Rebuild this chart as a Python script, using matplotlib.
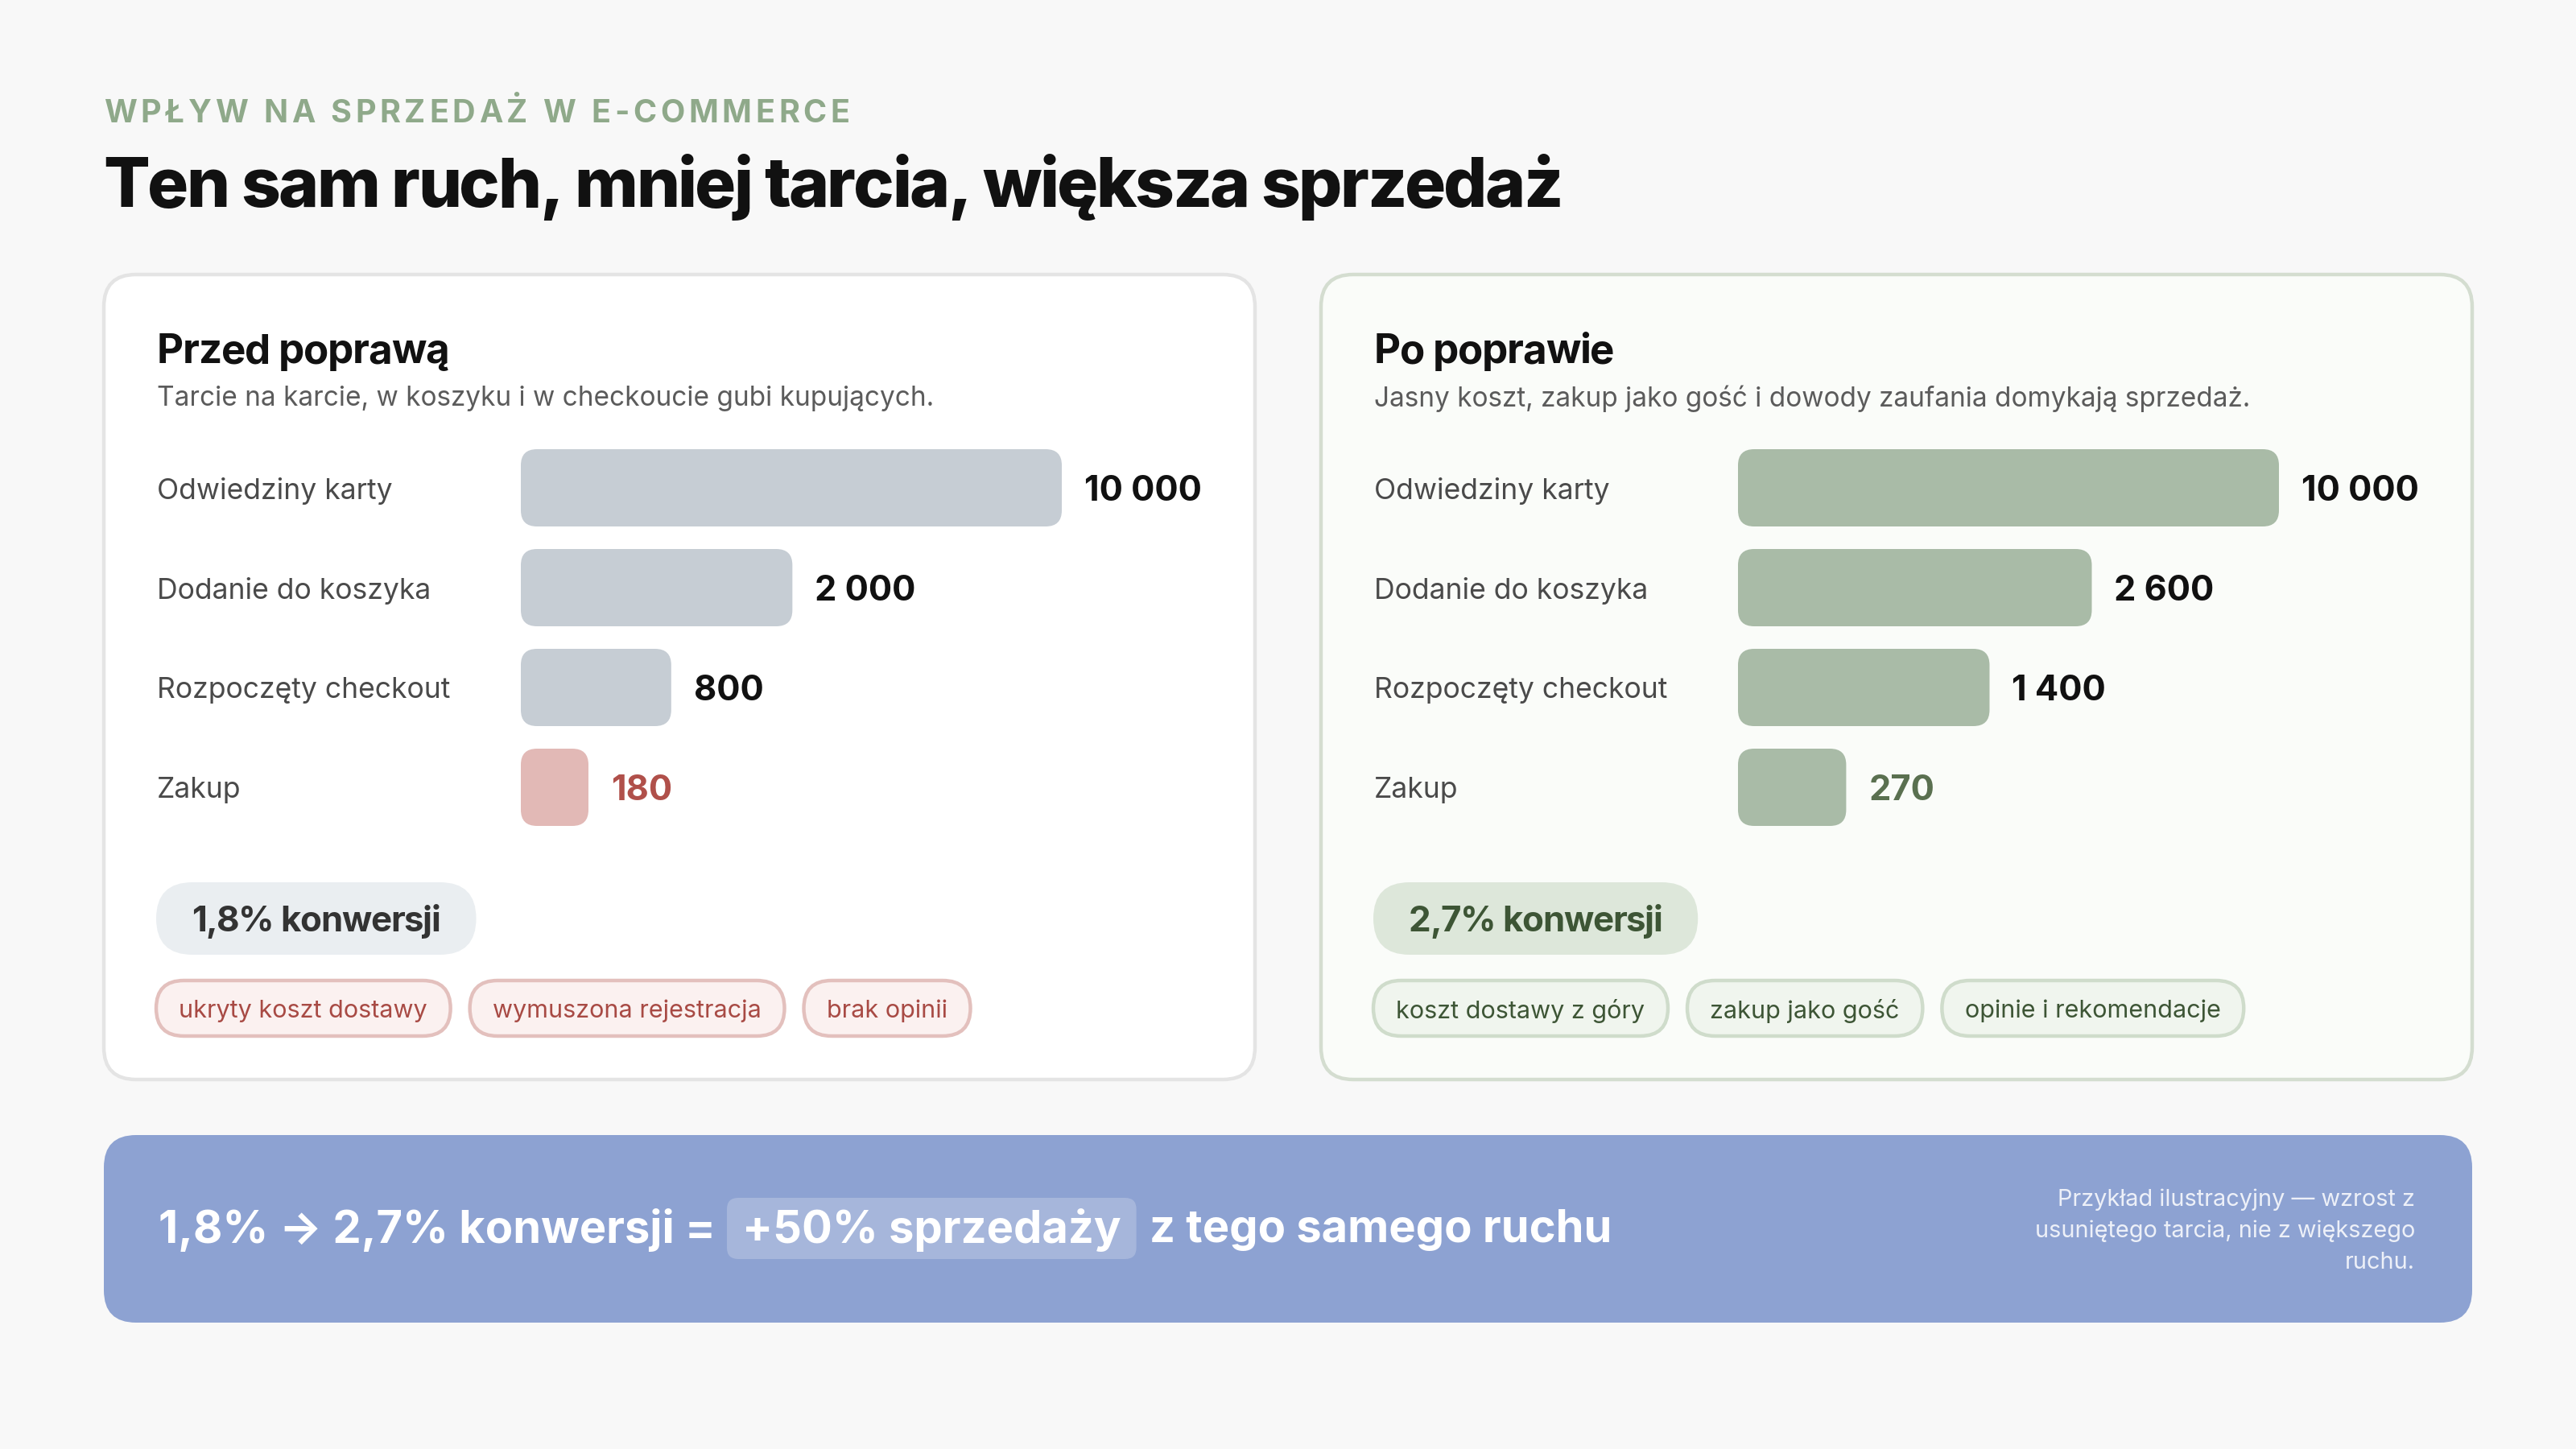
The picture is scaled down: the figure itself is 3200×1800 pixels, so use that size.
import matplotlib
matplotlib.use("Agg")
import matplotlib.pyplot as plt
from matplotlib.patches import FancyBboxPatch
from matplotlib.transforms import blended_transform_factory
from matplotlib.font_manager import FontProperties, findfont, get_font
from matplotlib.ft2font import Kerning, LoadFlags

plt.rcParams['font.family'] = ['Inter', 'DejaVu Sans']

# data
eyebrow = "WPŁYW NA SPRZEDAŻ W E-COMMERCE"
title = "Ten sam ruch, mniej tarcia, większa sprzedaż"
stages = ["Odwiedziny karty", "Dodanie do koszyka", "Rozpoczęty checkout", "Zakup"]

before_title = "Przed poprawą"
before_sub = "Tarcie na karcie, w koszyku i w checkoucie gubi kupujących."
before_values = [10000, 2000, 800, 180]
before_bar_pct = [100, 50.2, 27.8, 12.5]      # bar lengths as drawn in the picture
before_rate = "1,8% konwersji"
before_tags = ["ukryty koszt dostawy", "wymuszona rejestracja", "brak opinii"]

after_title = "Po poprawie"
after_sub = "Jasny koszt, zakup jako gość i dowody zaufania domykają sprzedaż."
after_values = [10000, 2600, 1400, 270]
after_bar_pct = [100, 65.4, 46.5, 20.0]
after_rate = "2,7% konwersji"
after_tags = ["koszt dostawy z góry", "zakup jako gość", "opinie i rekomendacje"]

banner_parts = ["1,8% → 2,7% konwersji =", "+50% sprzedaży", "z tego samego ruchu"]
banner_note = "Przykład ilustracyjny — wzrost z\nusuniętego tarcia, nie z większego\nruchu."

W, H, DPI = 3200, 1800, 200
fig = plt.figure(figsize=(W / DPI, H / DPI), dpi=DPI)
fig.patch.set_facecolor('#f8f8f8')
ax = fig.add_axes([0, 0, 1, 1])
ax.set_xlim(0, W)
ax.set_ylim(H, 0)
ax.axis('off')
renderer = fig.canvas.get_renderer()


def text_w(s, **kw):
    t = ax.text(0, 0, s, **kw)
    w = t.get_window_extent(renderer).width
    t.remove()
    return w


def tracked(x, y, s, size, track, weight='normal', ha='left', draw=True, **kw):
    # draws s glyph by glyph on its baseline, with extra letter spacing (px)
    font = get_font(findfont(FontProperties(family='Inter', weight=weight)))
    font.set_size(size, DPI)
    adv, prev = [], None
    for c in s:
        idx = font.get_char_index(ord(c))
        k = font.get_kerning(prev, idx, Kerning.DEFAULT) / 64 if prev is not None else 0
        g = font.load_char(ord(c), flags=LoadFlags.NO_HINTING)
        adv.append((k, g.linearHoriAdvance / 65536))
        prev = idx
    total = sum(k + a for k, a in adv) + track * (len(s) - 1)
    if not draw:
        return total
    pos = x - total / 2 if ha == 'center' else (x - total if ha == 'right' else x)
    for c, (k, a) in zip(s, adv):
        pos += k
        ax.text(pos, y, c, fontsize=size, weight=weight, ha='left', va='baseline', **kw)
        pos += a + track
    return total


def rbox(x, y, w, h, r, **kw):
    p = FancyBboxPatch((x, y), w, h, boxstyle=f"round,pad=0,rounding_size={r}", **kw)
    ax.add_patch(p)
    return p


# header
tracked(129, 152, eyebrow, 14.2, 4.8, weight='bold', color='#8fa98a')
tracked(128, 257, title, 30.7, -2.6, weight='heavy', color='#111111')


def panel(x0, name, sub, values, pct, rate, tags, style):
    rbox(x0, 341, 1430, 1000, 40, fc=style['card'], ec=style['card_edge'], lw=1.6, zorder=1)
    tracked(x0 + 66, 451, name, 18.4, -1.2, weight='bold', color='#111111', zorder=3)
    ax.text(x0 + 66, 495, sub, fontsize=12.0, color='#5b5b5b', va='center')

    # bar axes: 0-100 across 672 px, 4 rows of 124 px
    bx, bw, top, bh = x0 + 518, 672, 544, 496
    bax = fig.add_axes([bx / W, 1 - (top + bh) / H, bw / W, bh / H])
    bax.set_xlim(0, 100)
    bax.set_ylim(len(values) - 0.5, -0.5)
    bax.axis('off')
    bax.patch.set_alpha(0)
    colors = [style['bar']] * (len(values) - 1) + [style['bar_last']]
    bars = bax.barh(range(len(values)), pct, height=0.774, color=colors)
    aspect = (len(values) / bh) / (100 / bw)
    for rect, c in zip(bars, colors):
        rect.set_visible(False)
        bax.add_patch(FancyBboxPatch((rect.get_x(), rect.get_y()), rect.get_width(), rect.get_height(),
                                     boxstyle=f"round,pad=0,rounding_size={20 * 100 / bw}",
                                     mutation_aspect=aspect, fc=c, ec='none'))
    for i, (v, p) in enumerate(zip(values, pct)):
        col = style['last_txt'] if i == len(values) - 1 else '#111111'
        bax.annotate(f"{v:,}".replace(",", " "), xy=(p, i), xytext=(10, -1.5), textcoords='offset points',
                     va='center', ha='left', fontsize=15.6, weight='bold', color=col,
                     annotation_clip=False)
    tr = blended_transform_factory(ax.transData, bax.transData)
    for i, s in enumerate(stages):
        ax.text(x0 + 66, i + 0.03, s, transform=tr, fontsize=12.8, color='#4a4a4a', va='center')

    # conversion pill
    pw = tracked(0, 0, rate, 15.8, -1.3, weight='bold', draw=False) + 88
    rbox(x0 + 65, 1096, pw, 90, 45, fc=style['pill'], ec='none', zorder=2)
    tracked(x0 + 65 + pw / 2, 1157, rate, 15.8, -1.3, weight='bold', ha='center',
            color=style['pill_txt'], zorder=3)

    # tags
    tx = x0 + 65
    for t in tags:
        tw = text_w(t, fontsize=11.0) + 57
        rbox(tx, 1218, tw, 69, 34.5, fc=style['tag'], ec=style['tag_edge'], lw=1.6, zorder=2)
        ax.text(tx + tw / 2, 1256, t, fontsize=11.0, color=style['tag_txt'], ha='center', va='center', zorder=3)
        tx += tw + 24


panel(129, before_title, before_sub, before_values, before_bar_pct, before_rate, before_tags,
      dict(card='#ffffff', card_edge='#e4e4e4', bar='#c6cdd4', bar_last='#e2b9b6', last_txt='#b0504a',
           pill='#eaeef1', pill_txt='#333333', tag='#fbf1f0', tag_edge='#e3c0bd', tag_txt='#a84a44'))
panel(1641, after_title, after_sub, after_values, after_bar_pct, after_rate, after_tags,
      dict(card='#fafcf9', card_edge='#d4ddd0', bar='#a9bba7', bar_last='#a9bba7', last_txt='#5a7050',
           pill='#dde7da', pill_txt='#3d5535', tag='#f0f5ee', tag_edge='#cfdccb', tag_txt='#3d5535'))

# banner
rbox(129, 1410, 2942, 233, 40, fc='#8da2d2', ec='none', zorder=1)
bsize = 20.2
bx = 197
ax.text(bx, 1528, banner_parts[0], fontsize=bsize, weight='bold', color='white', va='center', zorder=3)
bx += text_w(banner_parts[0], fontsize=bsize, weight='bold') + 14
hw = text_w(banner_parts[1], fontsize=bsize, weight='bold') + 38
rbox(bx, 1488, hw, 76, 14, fc='#ffffff', alpha=0.22, ec='none', zorder=2)
ax.text(bx + hw / 2, 1528, banner_parts[1], fontsize=bsize, weight='bold', color='white',
        ha='center', va='center', zorder=3)
bx += hw + 16
ax.text(bx, 1528, banner_parts[2], fontsize=bsize, weight='bold', color='white', va='center', zorder=3)
ax.text(3000, 1529, banner_note, fontsize=10.4, color='#ffffff', alpha=0.85, ha='right', va='center',
        linespacing=1.55, zorder=3)

fig.savefig("out.png", dpi=DPI, facecolor=fig.get_facecolor())
